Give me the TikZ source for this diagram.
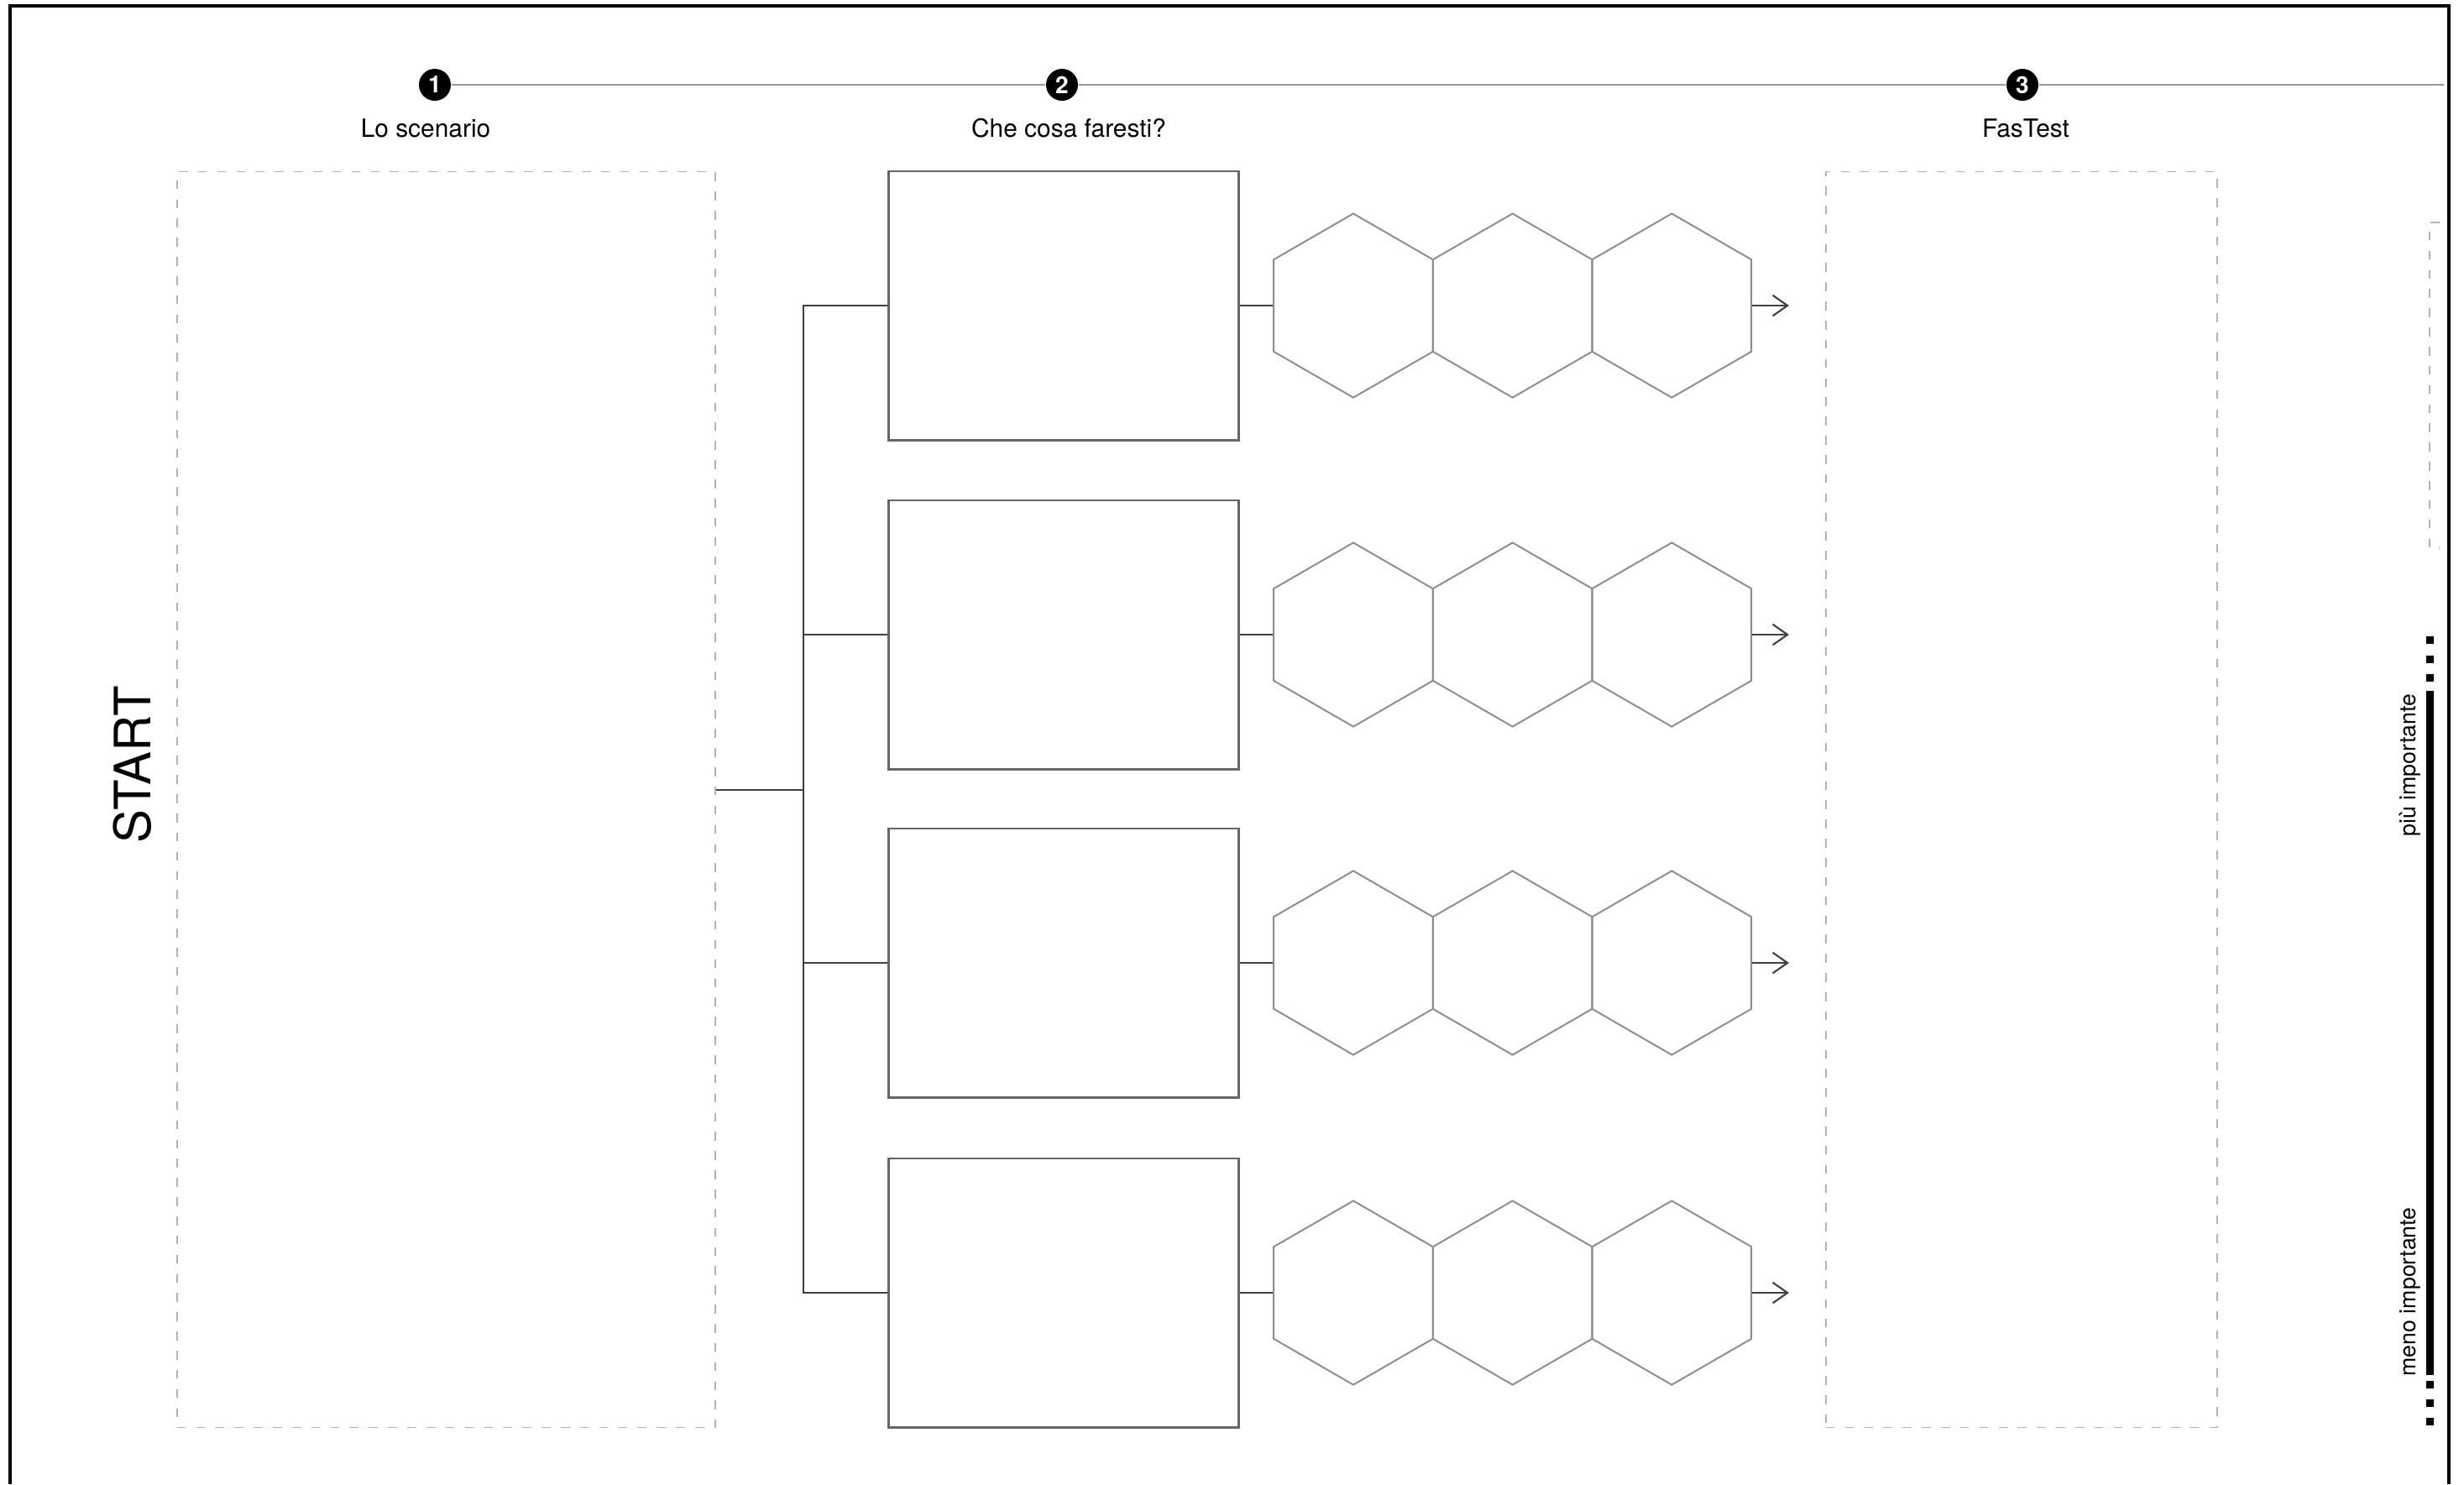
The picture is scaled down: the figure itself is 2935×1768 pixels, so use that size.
\documentclass[tikz,border=0pt]{standalone}
\usepackage{fontspec}
\setmainfont{TeX Gyre Heros}
\usetikzlibrary{shapes.geometric,arrows.meta,calc}
\begin{document}
\begin{tikzpicture}[x=0.01cm,y=-0.01cm,
  frame/.style={line width=1.0pt, draw=black},
  tline/.style={draw=black!40, line width=0.7pt},
  numc/.style={circle, fill=black, text=white, minimum size=0.38cm, inner sep=0pt, font=\bfseries\fontsize{8}{8}\selectfont},
  lbl/.style={font=\fontsize{8.5}{10}\selectfont, inner sep=0pt, anchor=base},
  dline/.style={draw=black!30, line width=0.45pt, dash pattern=on 3pt off 3.5pt},
  dbox/.style={dline, minimum height=14.95cm, inner sep=0pt},
  choice/.style={draw=black!60, line width=0.8pt, minimum width=4.16cm, minimum height=3.2cm, inner sep=0pt},
  hexa/.style={regular polygon, regular polygon sides=6, shape border rotate=30, draw=black!45, line width=0.55pt, minimum size=2.19cm, inner sep=0pt},
  conn/.style={draw=black!75, line width=0.6pt},
  side/.style={rotate=90, font=\fontsize{7.6}{9}\selectfont, inner sep=0pt},
  sq/.style={fill=black}
]
\useasboundingbox (0,0) rectangle (2935,1768);
% frame
\draw[frame] (12,1768) -- (12,7) -- (2917,7) -- (2917,1768);
% timeline
\node[numc] (n1) at (518,101) {1};
\node[numc] (n2) at (1265,101) {2};
\node[numc] (n3) at (2409,101) {3};
\coordinate (tend) at (2911,101);
\draw[tline] (n1) -- (n2) (n2) -- (n3) (n3) -- (tend);
\node[lbl] (l1) at (507,163) {Lo scenario};
\node[lbl] (l2) at (1273,163) {Che cosa faresti?};
\node[lbl] (l3) at (2413,163) {FasTest};
% start
\node[rotate=90, font=\fontsize{17}{17}\selectfont, inner sep=0pt] (start) at (157.5,910.5) {START};
% dashed boxes
\node[dbox, minimum width=6.41cm] (scen) at (531.5,952.5) {};
\node[dbox, minimum width=4.66cm] (fast) at (2408,952.5) {};
\coordinate (pa) at (2906,265);
\coordinate (pb) at (2906,653);
\draw[dline] (pa) -- (2894,265) -- (2894,653) -- (pb);
% choices and hexagons
\foreach \i/\y in {1/364,2/756,3/1147,4/1540} {
  \node[choice] (c\i) at (1267,\y) {};
  \node[hexa] (ha\i) at (1612,\y) {};
  \node[hexa] (hb\i) at (1801.66,\y) {};
  \node[hexa] (hc\i) at (1991.3,\y) {};
  \coordinate (e\i) at (2131,\y);
  \draw[conn] (c\i.east) -- (ha\i.180);
  \draw[conn, -{Straight Barb[length=5pt,width=7pt]}] (hc\i.0) -- (e\i);
}
% trunk
\coordinate (tj) at (957,941);
\draw[conn] (scen.east |- tj) -- (tj);
\draw[conn] (c1.west) -- (c1.west -| tj) -- (c4.west -| tj) -- (c4.west);
\draw[conn] (c2.west) -- (c2.west -| tj);
\draw[conn] (c3.west) -- (c3.west -| tj);
% importance scale
\node[side, anchor=east] (piu) at (2871,826) {più importante};
\node[side, anchor=west] (meno) at (2871,1640) {meno importante};
\coordinate (bt) at (2894.5,823);
\coordinate (bb) at (2894.5,1638);
\draw[line width=2.7pt] (bt) -- (bb);
\foreach \yy in {762,785,807,1649,1671,1693} {
  \fill[sq] (2890,\yy-4.5) rectangle ++(9,9);
}
\end{tikzpicture}
\end{document}
